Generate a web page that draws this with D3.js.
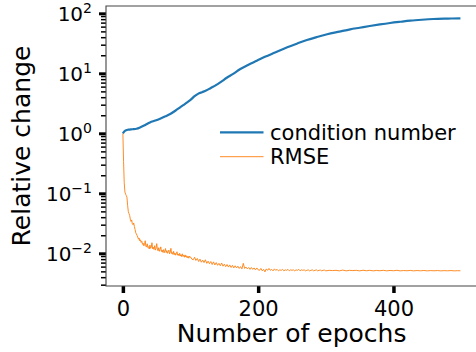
<!DOCTYPE html>
<html>
<head>
<meta charset="utf-8">
<script src="https://cdn.jsdelivr.net/npm/d3@7"></script>
<style>
  body { margin: 0; background: #fff; }
  text { font-family: "DejaVu Sans", sans-serif; fill: #000; }
</style>
</head>
<body>
<div id="chart"></div>
<script>
// condition number (blue)
var condEpochs = [0, 3, 8, 14, 20, 26, 33, 40, 48, 55, 63, 70, 78, 85, 92, 100, 106, 111, 117, 123,
  130, 137, 145, 153, 163, 173, 185, 198, 210, 225, 243, 258, 272, 287, 302, 320, 336, 350, 365,
  380, 395, 410, 425, 442, 459, 480, 499]
var condValues = [1.0, 1.10, 1.15, 1.17, 1.19, 1.26, 1.38, 1.52, 1.63, 1.75, 1.92, 2.10, 2.40, 2.74,
  3.10, 3.60, 4.15, 4.55, 4.85, 5.15, 5.70, 6.30, 7.20, 8.35, 9.8, 11.7, 13.8, 16.2, 18.8, 22.2,
  27.1, 31.5, 35.9, 40.3, 44.7, 49.5, 54.1, 57.5, 61.4, 65.3, 69.0, 72.3, 75.5, 78.2, 80.4, 81.7, 82.6]

// RMSE (orange), noisy, estimated point by point
var rmseEpochs = [0, 1, 2, 3, 4, 5, 6, 7, 8, 9, 10, 11, 12, 13, 14, 15, 16, 17, 18, 19, 20,
  21, 22, 23, 24, 25, 26, 27, 28, 29, 30, 31, 32, 33, 34, 35, 36, 37, 38, 39, 40,
  41, 42, 43, 44, 45, 46, 47, 48, 49, 50, 51, 52, 53, 54, 55, 56, 57, 58, 59, 60,
  61, 62, 63, 64, 65, 66, 67, 68, 69, 70, 71, 72, 73, 74, 75, 76, 77, 78, 79, 80,
  81, 82, 83, 84, 85, 86, 87, 88, 89, 90, 91, 92, 93, 94, 95, 96, 97, 98, 99, 100,
  102, 104, 106, 108, 110, 112, 114, 116, 118, 120, 122, 124, 126, 128, 130, 132, 134, 136, 138, 140,
  142, 144, 146, 148, 150, 152, 154, 156, 158, 160, 162, 164, 166, 168, 170, 172, 174, 176, 178, 180,
  182, 184, 186, 188, 190, 192, 194, 196, 198, 200,
  202, 204, 206, 208, 210, 212, 214, 216, 218, 220, 222, 224, 226, 228, 230, 232, 234, 236, 238, 240,
  242, 244, 246, 248, 250, 252, 254, 256, 258, 260, 262, 264, 266, 268, 270, 272, 274, 276, 278, 280,
  282, 284, 286, 288, 290, 292, 294, 296, 298, 300,
  305, 310, 315, 320, 325, 330, 335, 340, 345, 350, 355, 360, 365, 370, 375, 380, 385, 390, 395, 400,
  405, 410, 415, 420, 425, 430, 435, 440, 445, 450, 455, 460, 465, 470, 475, 480, 485, 490, 495, 499]
var rmseValues = [1.0, 0.34, 0.15, 0.105, 0.097, 0.092, 0.086, 0.063, 0.05, 0.046, 0.043, 0.037, 0.034, 0.036, 0.031, 0.030, 0.032, 0.028, 0.025, 0.022, 0.021,
  0.0198, 0.0187, 0.0172, 0.0179, 0.0161, 0.0168, 0.0152, 0.0159, 0.0141, 0.0147, 0.0133, 0.0139, 0.0162, 0.0131, 0.0127, 0.0144, 0.0125, 0.0129, 0.0118, 0.0137,
  0.0121, 0.0127, 0.0150, 0.0119, 0.0126, 0.0116, 0.0134, 0.0113, 0.0121, 0.0145, 0.0118, 0.0110, 0.0124, 0.0108, 0.0116, 0.0128, 0.0107, 0.0113, 0.0104, 0.0115,
  0.0102, 0.0109, 0.0120, 0.0103, 0.0111, 0.0100, 0.0106, 0.0113, 0.0098, 0.0104, 0.0121, 0.0099, 0.0103, 0.0096, 0.0108, 0.0095, 0.0101, 0.0093, 0.0099, 0.0106,
  0.0093, 0.0097, 0.0091, 0.0100, 0.0090, 0.0095, 0.0088, 0.0098, 0.0089, 0.0093, 0.0086, 0.0094, 0.0087, 0.0091, 0.0084, 0.0089, 0.0083, 0.0090, 0.0085, 0.0087,
  0.0080, 0.0078, 0.0086, 0.0076, 0.0082, 0.0073, 0.0080, 0.0071, 0.0077, 0.0070, 0.0078, 0.0068, 0.0074, 0.0067, 0.0073, 0.0065, 0.0072, 0.0064, 0.0070, 0.0063,
  0.0068, 0.0062, 0.0069, 0.0061, 0.0066, 0.0060, 0.0065, 0.0059, 0.0064, 0.0058, 0.0063, 0.0057, 0.0062, 0.0057, 0.0061, 0.0056, 0.0060, 0.0055, 0.0068, 0.0056,
  0.0059, 0.0055, 0.0058, 0.0054, 0.0058, 0.0054, 0.0057, 0.0053, 0.0057, 0.0053,
  0.0052, 0.0056, 0.0051, 0.0054, 0.0049, 0.0055, 0.0052, 0.0056, 0.0052, 0.0054, 0.0051, 0.0055, 0.0052, 0.0054, 0.0051, 0.0053, 0.0052, 0.0054, 0.0051, 0.0053,
  0.0052, 0.0054, 0.0051, 0.0053, 0.0052, 0.0053, 0.0051, 0.0053, 0.0052, 0.0054, 0.0051, 0.0053, 0.0052, 0.0053, 0.0051, 0.0052, 0.0053, 0.0051, 0.0052, 0.0053,
  0.0051, 0.0052, 0.0053, 0.0051, 0.0052, 0.00525, 0.0051, 0.0052, 0.00525, 0.0051,
  0.0052, 0.00515, 0.0052, 0.0051, 0.00525, 0.0051, 0.0052, 0.00515, 0.0052, 0.0051, 0.00522, 0.00512, 0.0052, 0.0051, 0.00518, 0.00512, 0.0052, 0.0051, 0.00518, 0.00512,
  0.0052, 0.0051, 0.00516, 0.00512, 0.00518, 0.0051, 0.00516, 0.00511, 0.00517, 0.0051, 0.00515, 0.00511, 0.00516, 0.0051, 0.00514, 0.00511, 0.00515, 0.0051, 0.00513, 0.00511]

var xTicks = [0, 200, 400]
var yMajor = [-2, -1, 0, 1, 2]   // exponents
var legendLabels = ["condition number", "RMSE"]
var colors = ["#1f77b4", "#ff7f0e"]

var width = 476, height = 352
var plot = { left: 106, right: 477.3, top: 6, bottom: 286 }

var svg = d3.select("#chart").append("svg")
  .attr("width", width)
  .attr("height", height)

// scales (matplotlib style 5% margins)
var x = d3.scaleLinear().domain([-24.95, 523.95]).range([plot.left, plot.right])
var y = d3.scaleLog().domain([Math.pow(10, -2.545), Math.pow(10, 2.122)]).range([plot.bottom, plot.top])

// minor y ticks
var yMinor = []
for (let e = -3; e <= 2; e++) {
  for (let k = 2; k <= 9; k++) {
    let v = k * Math.pow(10, e)
    if (v >= y.domain()[0] && v <= y.domain()[1]) yMinor.push(v)
  }
}

svg.append("g")
  .attr("transform", "translate(" + plot.left + ",0)")
  .call(d3.axisLeft(y).tickValues(yMinor).tickFormat("").tickSize(5).tickSizeOuter(0))
  .call(g => g.select(".domain").remove())
  .call(g => g.selectAll(".tick line").attr("stroke", "#000").attr("stroke-width", 1.5))

svg.append("g")
  .attr("transform", "translate(" + plot.left + ",0)")
  .call(d3.axisLeft(y).tickValues(yMajor.map(e => Math.pow(10, e))).tickFormat("").tickSize(7).tickSizeOuter(0))
  .call(g => g.select(".domain").remove())
  .call(g => g.selectAll(".tick line").attr("stroke", "#000").attr("stroke-width", 3))

// y tick labels with superscripts
yMajor.forEach(function(e) {
  var t = svg.append("text")
    .attr("x", 92)
    .attr("y", y(Math.pow(10, e)) + 8)
    .attr("text-anchor", "end")
    .style("font-size", "20px")
  t.append("tspan").text("10")
  t.append("tspan")
    .attr("dy", -8.5)
    .style("font-size", "14px")
    .text(e < 0 ? "\u2212" + (-e) : String(e))
})

// x axis
svg.append("g")
  .attr("transform", "translate(0," + plot.bottom + ")")
  .call(d3.axisBottom(x).tickValues(xTicks).tickSize(7).tickSizeOuter(0).tickPadding(8))
  .call(g => g.select(".domain").remove())
  .call(g => g.selectAll(".tick line").attr("stroke", "#000").attr("stroke-width", 3.5))
  .call(g => g.selectAll(".tick text").style("font-size", "21px").attr("font-family", "DejaVu Sans").attr("fill", "#000"))

// spines: left, top, bottom
svg.append("path")
  .attr("d", "M" + plot.right + "," + plot.top + "H" + plot.left + "V" + plot.bottom + "H" + plot.right)
  .attr("fill", "none")
  .attr("stroke", "#444")
  .attr("stroke-width", 1.1)

// lines
var line = d3.line()
  .x(d => x(d[0]))
  .y(d => y(d[1]))

var rmseData = rmseEpochs.map((e, i) => [e, rmseValues[i]])
var condData = condEpochs.map((e, i) => [e, condValues[i]])

svg.append("path")
  .datum(rmseData)
  .attr("d", line)
  .attr("fill", "none")
  .attr("stroke", colors[1])
  .attr("stroke-width", 0.9)

svg.append("path")
  .datum(condData)
  .attr("d", line.curve(d3.curveMonotoneX))
  .attr("fill", "none")
  .attr("stroke", colors[0])
  .attr("stroke-width", 2.2)
  .attr("stroke-linejoin", "round")

// legend
var legend = svg.append("g")
legendLabels.forEach(function(lab, i) {
  var ly = 132.3 + i * 24.4
  legend.append("line")
    .attr("x1", 220).attr("x2", 263.5)
    .attr("y1", ly).attr("y2", ly)
    .attr("stroke", colors[i])
    .attr("stroke-width", i == 0 ? 2.2 : 0.9)
  legend.append("text")
    .attr("x", 270)
    .attr("y", ly + 7.3)
    .style("font-size", "21px")
    .text(lab)
})

// axis labels
svg.append("text")
  .attr("x", (plot.left + plot.right) / 2)
  .attr("y", 342)
  .attr("text-anchor", "middle")
  .style("font-size", "25px")
  .text("Number of epochs")

svg.append("text")
  .attr("transform", "translate(30," + ((plot.top + plot.bottom) / 2) + ") rotate(-90)")
  .attr("text-anchor", "middle")
  .style("font-size", "25px")
  .text("Relative change")
</script>
</body>
</html>
